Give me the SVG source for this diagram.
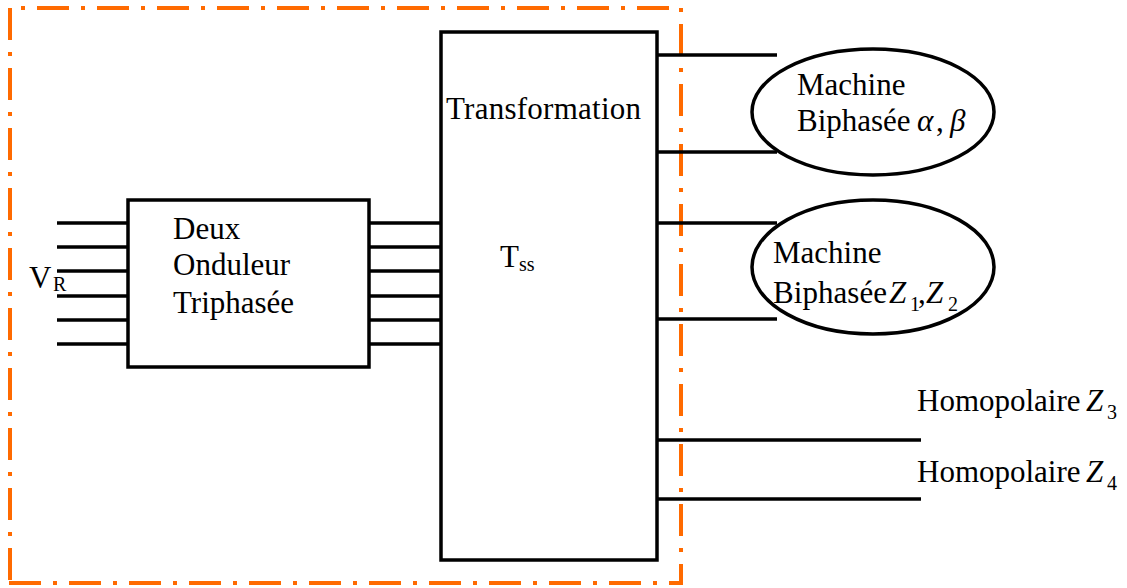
<svg xmlns="http://www.w3.org/2000/svg" width="1127" height="588" viewBox="0 0 1127 588">
<style>
.frame{fill:none;stroke:#FF6A00;stroke-width:4;stroke-dasharray:32 12 4 12}
.box{fill:#fff;stroke:#000;stroke-width:3.5}
.w{stroke:#000;stroke-width:3.5;fill:none}
text{font-family:"Liberation Serif","Times New Roman",serif;font-size:31px;fill:#000}
.sub{font-size:20px}
.it{font-style:italic}
</style>
<rect width="1127" height="588" fill="#fff"/>
<g id="frame">
<line class="frame" x1="9" y1="8" x2="681" y2="8" stroke-dashoffset="32"/>
<line class="frame" x1="10" y1="8" x2="10" y2="584"/>
<line class="frame" x1="681" y1="8" x2="681" y2="584" stroke-dashoffset="44"/>
<line class="frame" x1="9" y1="583" x2="683" y2="583"/>
</g>
<g id="connectors">
<line class="w" x1="57" y1="223" x2="128" y2="223"/>
<line class="w" x1="57" y1="247" x2="128" y2="247"/>
<line class="w" x1="57" y1="271" x2="128" y2="271"/>
<line class="w" x1="57" y1="296" x2="128" y2="296"/>
<line class="w" x1="57" y1="320" x2="128" y2="320"/>
<line class="w" x1="57" y1="344" x2="128" y2="344"/>
<line class="w" x1="369" y1="223" x2="441" y2="223"/>
<line class="w" x1="369" y1="247" x2="441" y2="247"/>
<line class="w" x1="369" y1="271" x2="441" y2="271"/>
<line class="w" x1="369" y1="296" x2="441" y2="296"/>
<line class="w" x1="369" y1="320" x2="441" y2="320"/>
<line class="w" x1="369" y1="344" x2="441" y2="344"/>
<line class="w" x1="657" y1="55" x2="777" y2="55"/>
<line class="w" x1="657" y1="152" x2="777" y2="152"/>
<line class="w" x1="657" y1="223" x2="777" y2="223"/>
<line class="w" x1="657" y1="319" x2="777" y2="319"/>
<line class="w" x1="657" y1="440" x2="921" y2="440"/>
<line class="w" x1="657" y1="499" x2="921" y2="499"/>
</g>
<g id="vr">
<text x="29" y="288">V</text>
<text class="sub" x="53" y="291">R</text>
</g>
<g id="onduleur">
<rect class="box" x="128" y="200" width="241" height="167"/>
<text x="173" y="239">Deux</text>
<text x="173" y="275">Onduleur</text>
<text x="173" y="313">Triphasée</text>
</g>
<g id="transformation">
<rect class="box" x="441" y="32" width="216" height="528"/>
<text x="446" y="119" textLength="195">Transformation</text>
<text x="500" y="267">T</text>
<text class="sub" x="519" y="271">ss</text>
</g>
<g id="machine1">
<ellipse class="box" cx="873" cy="112" rx="121" ry="63"/>
<text x="797" y="95">Machine</text>
<text x="797" y="131">Biphasée</text>
<text class="it" x="917" y="131">α</text>
<text x="936" y="131">,</text>
<text class="it" x="950" y="131">β</text>
</g>
<g id="machine2">
<ellipse class="box" cx="873" cy="267" rx="121" ry="67"/>
<text x="773" y="263">Machine</text>
<text x="773" y="303" textLength="114">Biphasée</text>
<text class="it" x="889" y="303">Z</text>
<text class="sub" x="910" y="311">1</text>
<text x="918" y="303">,</text>
<text class="it" x="926" y="303">Z</text>
<text class="sub" x="948" y="311">2</text>
</g>
<g id="homo3">
<text x="917" y="411">Homopolaire</text>
<text class="it" x="1086" y="411">Z</text>
<text class="sub" x="1107" y="419">3</text>
</g>
<g id="homo4">
<text x="917" y="482">Homopolaire</text>
<text class="it" x="1086" y="482">Z</text>
<text class="sub" x="1107" y="490">4</text>
</g>
</svg>
